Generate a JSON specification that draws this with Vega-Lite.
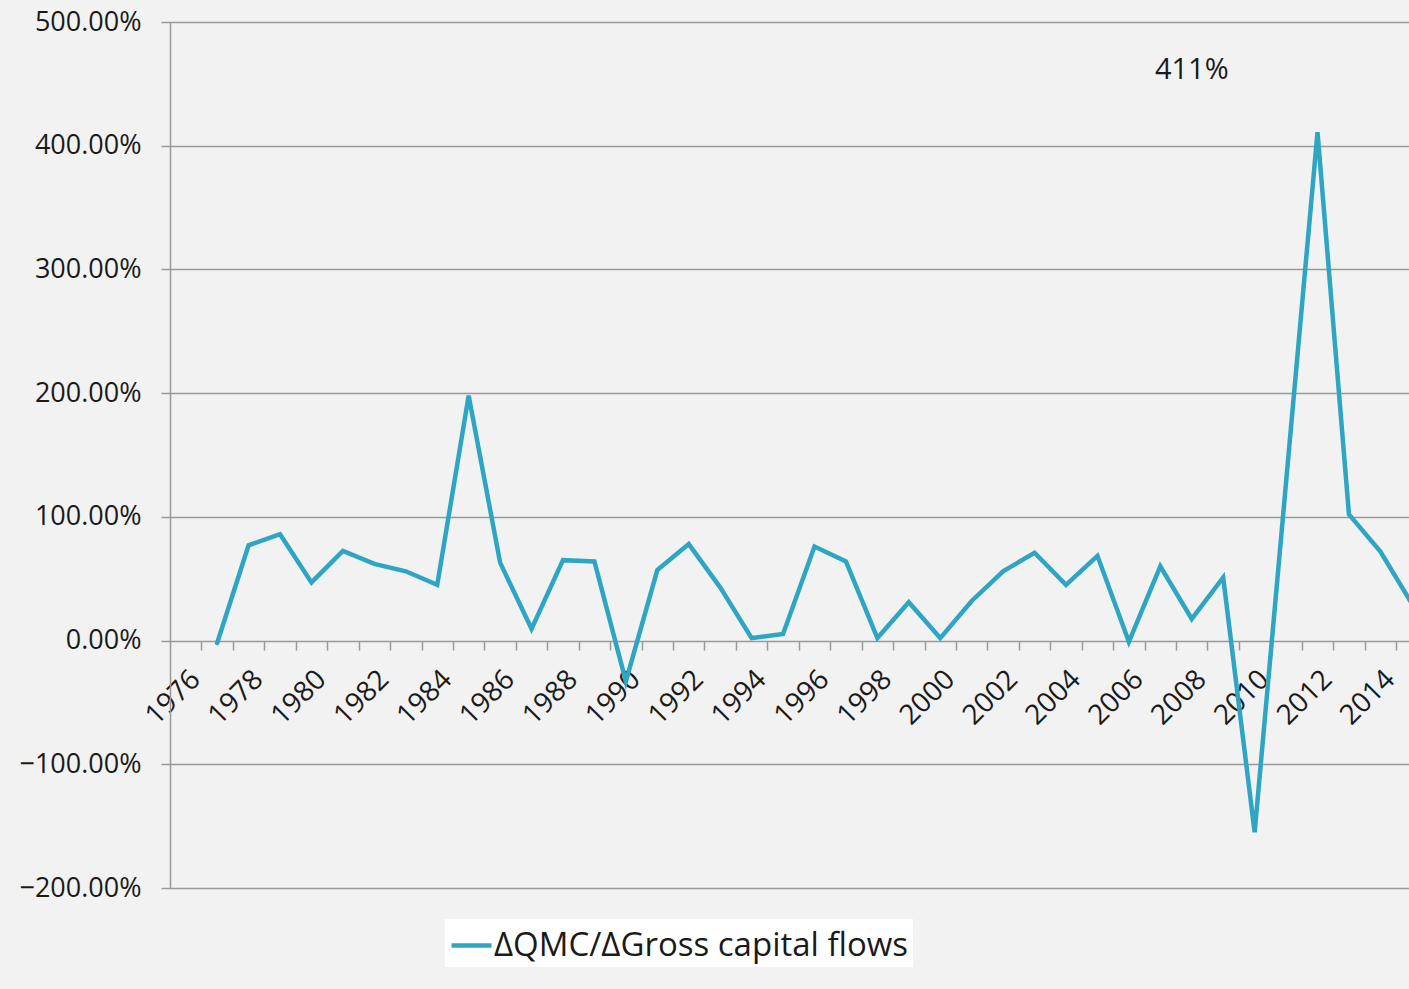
{
  "$schema": "https://vega.github.io/schema/vega-lite/v6.json",
  "width": 1239,
  "height": 866,
  "autosize": "none",
  "padding": {"left": 170, "top": 22, "right": 0, "bottom": 101},
  "background": "#f2f2f2",
  "config": {
    "view": {"stroke": null},
    "font": "Open Sans",
    "axis": {"labelFont": "Open Sans", "labelColor": "#1a1a1a", "domainColor": "#999999", "tickColor": "#999999", "gridColor": "#999999", "domainWidth": 1.5, "tickWidth": 1.5, "gridWidth": 1.5}
  },
  "datasets": {
    "series": [
      {"year": 1977, "v": -2, "series": "ΔQMC/ΔGross capital flows"},
      {"year": 1978, "v": 77, "series": "ΔQMC/ΔGross capital flows"},
      {"year": 1979, "v": 86, "series": "ΔQMC/ΔGross capital flows"},
      {"year": 1980, "v": 47, "series": "ΔQMC/ΔGross capital flows"},
      {"year": 1981, "v": 72.5, "series": "ΔQMC/ΔGross capital flows"},
      {"year": 1982, "v": 62, "series": "ΔQMC/ΔGross capital flows"},
      {"year": 1983, "v": 56, "series": "ΔQMC/ΔGross capital flows"},
      {"year": 1984, "v": 45, "series": "ΔQMC/ΔGross capital flows"},
      {"year": 1985, "v": 198, "series": "ΔQMC/ΔGross capital flows"},
      {"year": 1986, "v": 63, "series": "ΔQMC/ΔGross capital flows"},
      {"year": 1987, "v": 9.5, "series": "ΔQMC/ΔGross capital flows"},
      {"year": 1988, "v": 65, "series": "ΔQMC/ΔGross capital flows"},
      {"year": 1989, "v": 64, "series": "ΔQMC/ΔGross capital flows"},
      {"year": 1990, "v": -33, "series": "ΔQMC/ΔGross capital flows"},
      {"year": 1991, "v": 57, "series": "ΔQMC/ΔGross capital flows"},
      {"year": 1992, "v": 78, "series": "ΔQMC/ΔGross capital flows"},
      {"year": 1993, "v": 43, "series": "ΔQMC/ΔGross capital flows"},
      {"year": 1994, "v": 2, "series": "ΔQMC/ΔGross capital flows"},
      {"year": 1995, "v": 5.4, "series": "ΔQMC/ΔGross capital flows"},
      {"year": 1996, "v": 76, "series": "ΔQMC/ΔGross capital flows"},
      {"year": 1997, "v": 64, "series": "ΔQMC/ΔGross capital flows"},
      {"year": 1998, "v": 2, "series": "ΔQMC/ΔGross capital flows"},
      {"year": 1999, "v": 31, "series": "ΔQMC/ΔGross capital flows"},
      {"year": 2000, "v": 2, "series": "ΔQMC/ΔGross capital flows"},
      {"year": 2001, "v": 32, "series": "ΔQMC/ΔGross capital flows"},
      {"year": 2002, "v": 56, "series": "ΔQMC/ΔGross capital flows"},
      {"year": 2003, "v": 71, "series": "ΔQMC/ΔGross capital flows"},
      {"year": 2004, "v": 45, "series": "ΔQMC/ΔGross capital flows"},
      {"year": 2005, "v": 68.5, "series": "ΔQMC/ΔGross capital flows"},
      {"year": 2006, "v": -1, "series": "ΔQMC/ΔGross capital flows"},
      {"year": 2007, "v": 60, "series": "ΔQMC/ΔGross capital flows"},
      {"year": 2008, "v": 17.5, "series": "ΔQMC/ΔGross capital flows"},
      {"year": 2009, "v": 51, "series": "ΔQMC/ΔGross capital flows"},
      {"year": 2010, "v": -155, "series": "ΔQMC/ΔGross capital flows"},
      {"year": 2011, "v": 128, "series": "ΔQMC/ΔGross capital flows"},
      {"year": 2012, "v": 411, "series": "ΔQMC/ΔGross capital flows"},
      {"year": 2013, "v": 102, "series": "ΔQMC/ΔGross capital flows"},
      {"year": 2014, "v": 72, "series": "ΔQMC/ΔGross capital flows"},
      {"year": 2015, "v": 30, "series": "ΔQMC/ΔGross capital flows"}
    ],
    "note": [
      {"year": 2008, "v": 461, "label": "411%"}
    ]
  },
  "encoding": {
    "y": {
      "field": "v",
      "type": "quantitative",
      "scale": {"domain": [-200, 500], "nice": false, "zero": false},
      "axis": {
        "values": [-200, -100, 0, 100, 200, 300, 400, 500],
        "labelExpr": "format(datum.value, '.2f') + '%'",
        "labelFontSize": 27,
        "labelPadding": 20,
        "tickSize": 9,
        "grid": true,
        "domain": true,
        "title": null
      }
    }
  },
  "layer": [
    {
      "data": {"name": "series"},
      "mark": {"type": "line", "strokeWidth": 4.5, "clip": true, "strokeCap": "round", "strokeJoin": "miter"},
      "encoding": {
        "x": {
          "field": "year",
          "type": "quantitative",
          "scale": {"domain": [1975.5, 2014.91], "nice": false, "zero": false},
          "axis": {
            "orient": "bottom",
            "values": [1976.5, 1977.5, 1978.5, 1979.5, 1980.5, 1981.5, 1982.5, 1983.5, 1984.5, 1985.5, 1986.5, 1987.5, 1988.5, 1989.5, 1990.5, 1991.5, 1992.5, 1993.5, 1994.5, 1995.5, 1996.5, 1997.5, 1998.5, 1999.5, 2000.5, 2001.5, 2002.5, 2003.5, 2004.5, 2005.5, 2006.5, 2007.5, 2008.5, 2009.5, 2010.5, 2011.5, 2012.5, 2013.5, 2014.5],
            "labels": false,
            "ticks": true,
            "tickSize": 9,
            "domain": false,
            "grid": false,
            "offset": -247,
            "title": null
          }
        },
        "color": {
          "field": "series",
          "type": "nominal",
          "scale": {"range": ["#2ea6c3"]},
          "legend": {
            "title": null,
            "orient": "none",
            "legendX": 275,
            "legendY": 897,
            "fillColor": "white",
            "padding": 4,
            "symbolType": "stroke",
            "symbolSize": 1600,
            "symbolStrokeWidth": 4.5,
            "labelFontSize": 33,
            "labelFont": "Open Sans",
            "labelColor": "#1a1a1a",
            "labelOffset": 0,
            "labelLimit": 900
          }
        }
      }
    },
    {
      "data": {"name": "note"},
      "mark": {"type": "text", "fontSize": 29, "color": "#1a1a1a", "font": "Open Sans"},
      "encoding": {
        "x": {
          "field": "year",
          "type": "quantitative",
          "axis": {
            "orient": "bottom",
            "values": [1976, 1978, 1980, 1982, 1984, 1986, 1988, 1990, 1992, 1994, 1996, 1998, 2000, 2002, 2004, 2006, 2008, 2010, 2012, 2014],
            "format": "d",
            "labelAngle": -45,
            "labelFontSize": 28,
            "labelPadding": 24,
            "labelDx": -8,
            "labelOverlap": false,
            "labelBound": false,
            "ticks": false,
            "domain": false,
            "grid": false,
            "offset": -247,
            "title": null
          }
        },
        "text": {"field": "label"}
      }
    }
  ],
  "resolve": {"axis": {"x": "independent"}}
}
